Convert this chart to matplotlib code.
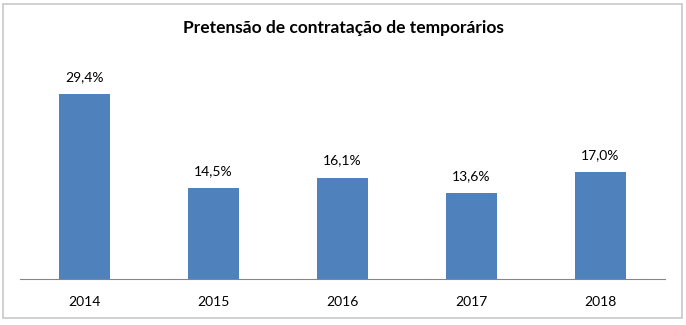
import matplotlib
matplotlib.use("Agg")
import matplotlib.pyplot as plt
from matplotlib.patches import Rectangle

years = ["2014", "2015", "2016", "2017", "2018"]
values = [29.4, 14.5, 16.1, 13.6, 17.0]
labels = ["29,4%", "14,5%", "16,1%", "13,6%", "17,0%"]
title = "Pretensão de contratação de temporários"

plt.rcParams['font.family'] = ['Lato', 'DejaVu Sans']

fig = plt.figure(figsize=(6.86, 3.25), dpi=100)
fig.patches.append(Rectangle((3/686, 7/325), 679/686, 314/325, transform=fig.transFigure,
                             fill=False, edgecolor="#C8C8C8", linewidth=1.2))

ax = fig.add_axes([20/686, 46/325, 645/686, 219/325])
x = list(range(len(years)))
ax.bar(x, values, width=0.40, color="#4F81BD")
ax.set_xlim(-0.5, len(years) - 0.5)
ax.set_ylim(0, 219/6.29)
for xi, v, lab in zip(x, values, labels):
    ax.annotate(lab, (xi, v), xytext=(0, 8), textcoords="offset points",
                ha="center", va="bottom", fontsize=10, color="#000000")
ax.set_xticks(x)
ax.set_xticklabels(years, fontsize=10)
ax.tick_params(axis="x", length=0, pad=12)
ax.set_yticks([])
for s in ["top", "right", "left"]:
    ax.spines[s].set_visible(False)
ax.spines["bottom"].set_color("#868686")
ax.patch.set_alpha(0)

fig.text(343/686, 1 - 28/325, title, ha="center", va="center", fontsize=12.5, fontweight="bold")

fig.savefig("out.png", dpi=100)
